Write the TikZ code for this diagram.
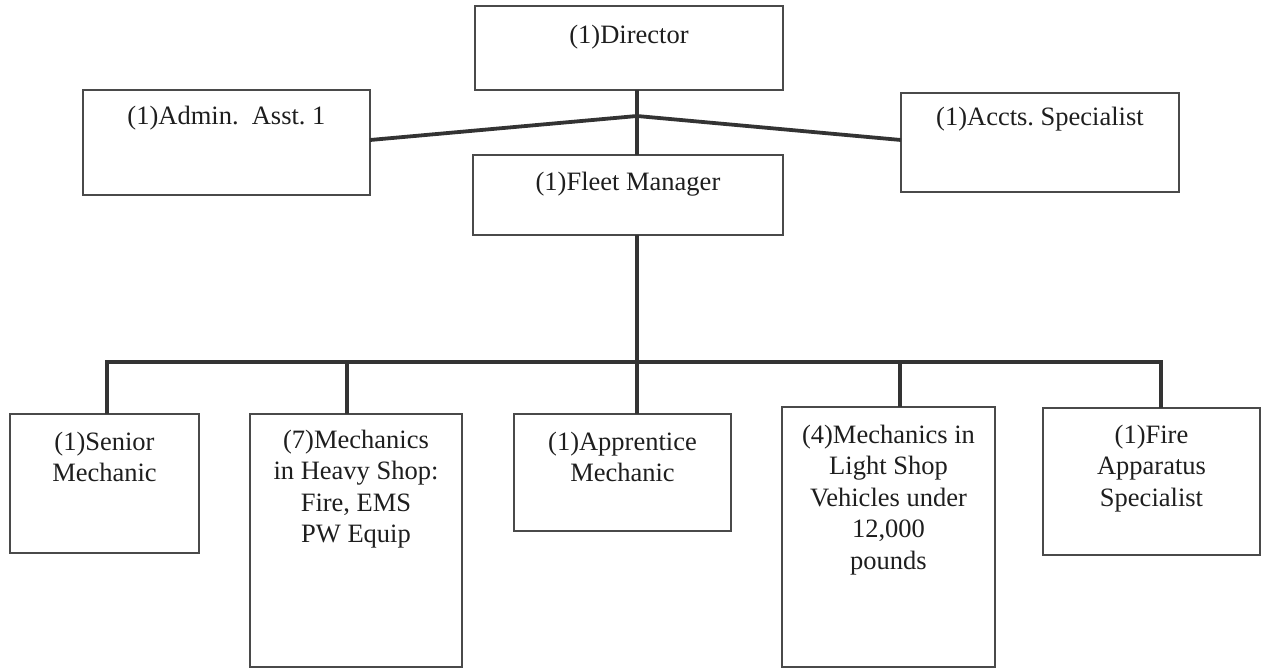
\documentclass[tikz,border=0pt]{standalone}
\usepackage{fontspec}
\setmainfont{Liberation Serif}
\definecolor{boxgray}{HTML}{4A4A4A}
\definecolor{linegray}{HTML}{333333}
\definecolor{textgray}{HTML}{1E1E1E}
% \orgnode{name}{left}{top}{right}{bottom}{top padding}{text}
\newcommand\orgnode[7]{%
  \node[orgbox, anchor=north west] (#1) at (#2,#3)
    {\parbox[t][\dimexpr#5pt-#3pt\relax][t]{\dimexpr#4pt-#2pt\relax}%
      {\vspace*{#6pt}\centering\strut #7\par}};}
\begin{document}
\frenchspacing
\begin{tikzpicture}[x=1pt, y=-1pt,
  orgbox/.style={draw=boxgray, line width=1.8pt, inner sep=0pt, outer sep=0pt,
    text=textgray, font=\fontsize{26.5}{31.5}\selectfont},
  link/.style={draw=linegray, line width=3.8pt}]
\useasboundingbox (0,0) rectangle (1262,669);

% top tier
\orgnode{dir}{475}{6}{783}{90}{15}{(1)Director}
\orgnode{admin}{83}{90}{370}{195}{12}{(1)Admin.\ \ Asst. 1}
\orgnode{accts}{901}{93}{1179}{192}{10}{(1)Accts. Specialist}
\orgnode{fleet}{473}{155}{783}{235}{13}{(1)Fleet Manager}

% shop tier
\orgnode{senior}{10}{414}{199}{553}{14}{(1)Senior\\Mechanic}
\orgnode{heavy}{250}{414}{462}{667}{12}{(7)Mechanics\\in Heavy Shop:\\Fire, EMS\\PW Equip}
\orgnode{appr}{514}{414}{731}{531}{14}{(1)Apprentice\\Mechanic}
\orgnode{light}{782}{407}{995}{667}{14}{(4)Mechanics in\\Light Shop\\Vehicles under\\12,000\\pounds}
\orgnode{fire}{1043}{408}{1260}{555}{13}{(1)Fire\\Apparatus\\Specialist}

% spine from the director down to the bus
\coordinate (hub) at (637,116);
\coordinate (bus) at (637,362);
\coordinate (b1) at (107,362);
\coordinate (b2) at (347,362);
\coordinate (b4) at (900,362);
\coordinate (b5) at (1161,362);
\coordinate (aside) at (0,140);

\draw[link] (dir.south -| hub) -- (hub) -- (fleet.north -| hub);
\draw[link] (hub) -- (admin.east |- aside);
\draw[link] (hub) -- (accts.west |- aside);
\draw[link] (fleet.south -| hub) -- (bus);

% bus and drops to the shop staff
\draw[link] (b1 |- senior.north) -- (b1) -- (b5) -- (b5 |- fire.north);
\draw[link] (b2) -- (b2 |- heavy.north);
\draw[link] (bus) -- (bus |- appr.north);
\draw[link] (b4) -- (b4 |- light.north);
\end{tikzpicture}
\end{document}
